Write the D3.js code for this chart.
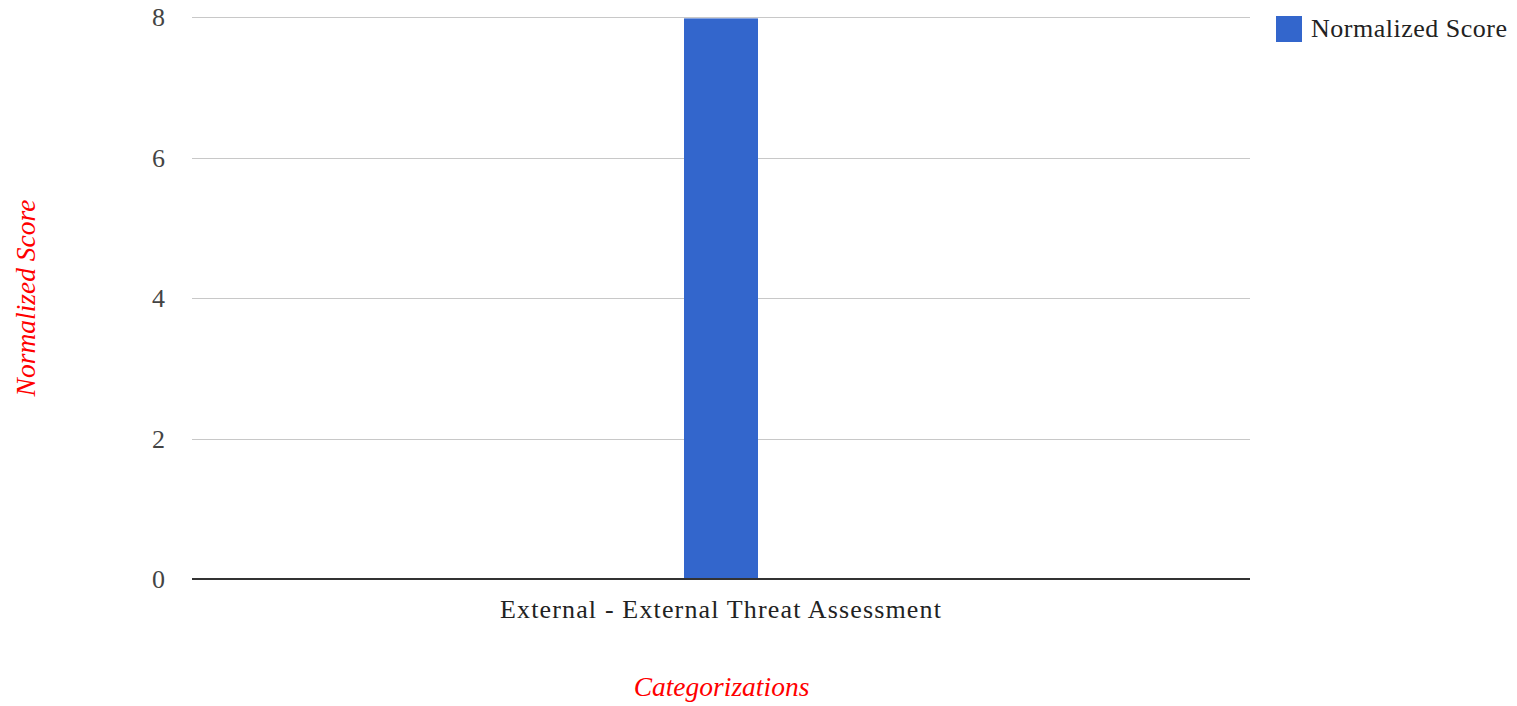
<!DOCTYPE html>
<html><head><meta charset="utf-8">
<script src="https://cdn.jsdelivr.net/npm/d3@7"></script>
<style>body{margin:0;background:#fff}svg{display:block}</style>
</head><body>
<script>
const categories = ["External - External Threat Assessment"];
const seriesName = "Normalized Score";
const values = [7.98];
const yTicks = [0, 2, 4, 6, 8];
const xTitle = "Categorizations";
const yTitle = "Normalized Score";

(function () {
const W = 1517, H = 706;
const svg = d3.select("body").append("svg").attr("width", W).attr("height", H);
const font = "'Liberation Serif','Times New Roman',serif";
const pLeft = 192, pRight = 1250, pTop = 17, pBottom = 579;

const x = d3.scaleBand().domain(categories).range([pLeft, pRight]).paddingInner(0).paddingOuter(6.65);
const y = d3.scaleLinear().domain([0, 8]).range([pBottom, pTop]);

// gridlines
svg.append("g").selectAll("line").data(yTicks.filter(d => d !== 0)).join("line")
  .attr("x1", pLeft).attr("x2", pRight)
  .attr("y1", d => Math.round(y(d)) + 0.5).attr("y2", d => Math.round(y(d)) + 0.5)
  .attr("stroke", "#c8c8c8").attr("stroke-width", 1);

// y tick labels
const yAxis = d3.axisLeft(y).tickValues(yTicks).tickSize(0).tickPadding(0);
const ya = svg.append("g").attr("transform", `translate(165,0)`).call(yAxis);
ya.select(".domain").remove();
ya.selectAll("text").attr("font-family", font).attr("font-size", 26).attr("fill", "#444").attr("dy", "0.34em");

// bars
svg.append("g").selectAll("rect").data(values).join("rect")
  .attr("x", (d, i) => x(categories[i]))
  .attr("width", x.bandwidth())
  .attr("y", d => y(d))
  .attr("height", d => y(0) - y(d))
  .attr("fill", "#3366cc");

// baseline
svg.append("line").attr("x1", pLeft).attr("x2", pRight).attr("y1", y(0)).attr("y2", y(0))
  .attr("stroke", "#333").attr("stroke-width", 2);

// x category labels
const xAxis = d3.axisBottom(x).tickSize(0).tickPadding(0);
const xa = svg.append("g").call(xAxis);
xa.select(".domain").remove();
xa.selectAll("text").attr("y", 618).attr("dy", 0)
  .attr("font-family", font).attr("font-size", 26).attr("fill", "#222").attr("letter-spacing", "1.15px");

// x title
svg.append("text").attr("x", (pLeft + pRight) / 2 + 0.5).attr("y", 696).attr("text-anchor", "middle")
  .attr("font-family", font).attr("font-size", 27.5).attr("font-style", "italic").attr("fill", "#ff0000")
  .text(xTitle);

// y title
svg.append("text").attr("transform", `translate(35,${(pTop + pBottom) / 2}) rotate(-90)`)
  .attr("text-anchor", "middle")
  .attr("font-family", font).attr("font-size", 27.5).attr("font-style", "italic").attr("fill", "#ff0000")
  .text(yTitle);

// legend
const lg = svg.append("g").attr("transform", "translate(1276,16)");
lg.append("rect").attr("width", 26).attr("height", 26).attr("fill", "#3366cc");
lg.append("text").attr("x", 35).attr("y", 21).attr("font-family", font).attr("font-size", 26)
  .attr("fill", "#222").attr("letter-spacing", "0.5px").text(seriesName);
})();
</script>
</body></html>
